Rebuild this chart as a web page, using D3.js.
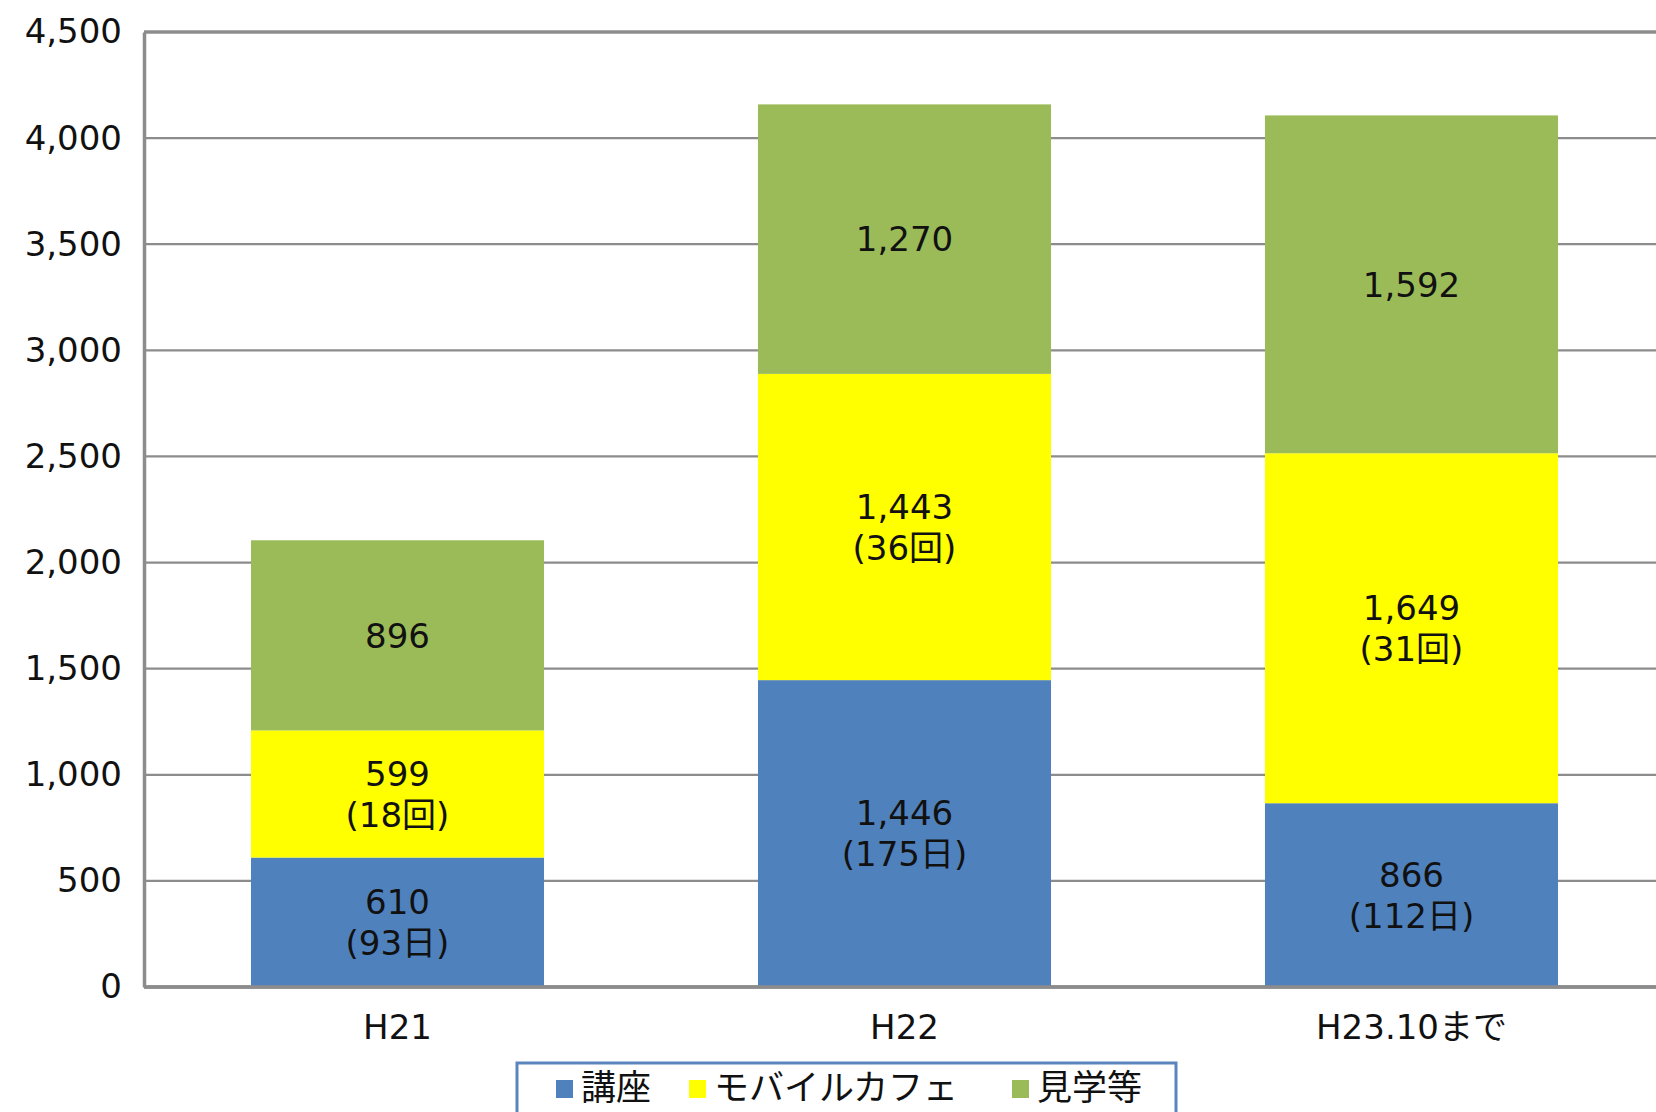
<!DOCTYPE html>
<html>
<head>
<meta charset="utf-8">
<script src="https://cdn.jsdelivr.net/npm/d3@7"></script>
<style>
  body { margin: 0; background: #fff; }
  svg { display: block; font-family: "DejaVu Sans", "Noto Sans CJK JP", sans-serif; }
</style>
</head>
<body>
<svg id="chart" width="1656" height="1112"></svg>
<script>
// data
const categories = ["H21", "H22", "H23.10まで"];
const seriesNames = ["講座", "モバイルカフェ", "見学等"];
const seriesColors = ["#4f81bd", "#ffff00", "#9bbb59"];
const lectureValues = [610, 1446, 866];
const cafeValues = [599, 1443, 1649];
const visitValues = [896, 1270, 1592];
const lectureNotes = ["(93日)", "(175日)", "(112日)"];
const cafeNotes = ["(18回)", "(36回)", "(31回)"];
const visitNotes = ["", "", ""];
const yTicks = [0, 500, 1000, 1500, 2000, 2500, 3000, 3500, 4000, 4500];

const series = [lectureValues, cafeValues, visitValues];
const notes = [lectureNotes, cafeNotes, visitNotes];

const rows = categories.map((c, i) => ({
  cat: c,
  s0: lectureValues[i],
  s1: cafeValues[i],
  s2: visitValues[i]
}));

const margin = { top: 32, left: 144 };
const plotW = 1521;
const plotH = 955;

const svg = d3.select("#chart");
const g = svg.append("g").attr("transform", `translate(${margin.left},${margin.top})`);

const x = d3.scaleBand()
  .domain(categories)
  .range([0, plotW])
  .paddingInner(0.422)
  .paddingOuter(0.211);

const y = d3.scaleLinear().domain([0, 4500]).range([plotH, 0]);

const fmt = d3.format(",");

// gridlines
g.selectAll(".grid")
  .data(yTicks)
  .enter()
  .append("line")
  .attr("x1", 0)
  .attr("x2", plotW)
  .attr("y1", d => y(d))
  .attr("y2", d => y(d))
  .attr("stroke", "#8c8c8c")
  .attr("stroke-width", d => d === 4500 || d === 0 ? 3.5 : 2.2);

// y axis
g.append("g")
  .call(d3.axisLeft(y).tickValues(yTicks).tickFormat(fmt).tickSize(0).tickPadding(22))
  .call(a => a.select(".domain").attr("stroke", "#8c8c8c").attr("stroke-width", 3.5))
  .selectAll("text")
  .attr("font-family", "DejaVu Sans")
  .attr("font-size", 34)
  .attr("fill", "#111");

// stacked bars
const stack = d3.stack().keys(["s0", "s1", "s2"]);
const stacked = stack(rows);

const layers = g.selectAll(".layer")
  .data(stacked)
  .enter()
  .append("g")
  .attr("fill", (d, i) => seriesColors[i]);

layers.selectAll("rect")
  .data(d => d)
  .enter()
  .append("rect")
  .attr("x", d => x(d.data.cat))
  .attr("width", x.bandwidth())
  .attr("y", d => y(d[1]))
  .attr("height", d => y(d[0]) - y(d[1]));

// bottom axis line over the bars
g.append("line")
  .attr("x1", 0).attr("x2", plotW)
  .attr("y1", plotH).attr("y2", plotH)
  .attr("stroke", "#8c8c8c").attr("stroke-width", 3.5);

// segment labels
stacked.forEach((layer, si) => {
  layer.forEach((d, ci) => {
    const cx = x(d.data.cat) + x.bandwidth() / 2;
    const cy = (y(d[0]) + y(d[1])) / 2;
    const lines = [fmt(series[si][ci])];
    if (notes[si][ci]) lines.push(notes[si][ci]);
    const t = g.append("text")
      .attr("text-anchor", "middle")
      .attr("font-size", 34)
      .attr("fill", "#111");
    lines.forEach((txt, li) => {
      t.append("tspan")
        .attr("x", cx)
        .attr("y", cy + (li - (lines.length - 1) / 2) * 41)
        .attr("dy", "0.36em")
        .text(txt);
    });
  });
});

// x axis labels
g.append("g")
  .attr("transform", `translate(0,${plotH})`)
  .call(d3.axisBottom(x).tickSize(0).tickPadding(28))
  .call(a => a.select(".domain").remove())
  .selectAll("text")
  .attr("font-family", "DejaVu Sans, Noto Sans CJK JP")
  .attr("font-size", 34)
  .attr("fill", "#111");

// legend (box runs off the bottom edge, as in the original)
const legend = svg.append("g");
legend.append("rect")
  .attr("x", 517).attr("y", 1063)
  .attr("width", 659).attr("height", 80)
  .attr("fill", "#fff")
  .attr("stroke", "#5b85bd")
  .attr("stroke-width", 3);

const legendX = [556, 689, 1012];
seriesNames.forEach((name, i) => {
  legend.append("rect")
    .attr("x", legendX[i]).attr("y", 1080)
    .attr("width", 17).attr("height", 18)
    .attr("fill", seriesColors[i]);
  legend.append("text")
    .attr("x", legendX[i] + 25)
    .attr("y", 1100)
    .attr("font-family", "Noto Sans CJK JP")
    .attr("font-size", 35)
    .attr("fill", "#111")
    .text(name);
});
</script>
</body>
</html>
